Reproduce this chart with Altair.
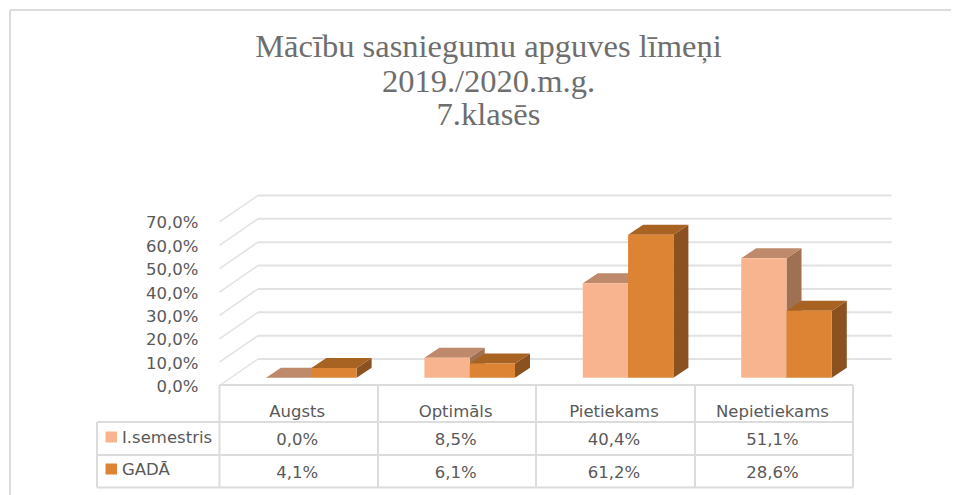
import altair as alt
import pandas as pd

categories = ["Augsts", "Optimāls", "Pietiekams", "Nepietiekams"]
series_names = ["I.semestris", "GADĀ"]
semester = [0.0, 8.5, 40.4, 51.1]
year = [4.1, 6.1, 61.2, 28.6]
ticks = [0, 10, 20, 30, 40, 50, 60, 70]

W, H = 943, 487
X0, SLOT = 219.5, 158.4
BASE, PPV = 377.7, 2.337
BAR_OFF, BAR_W = 46.5 / SLOT, 45.3 / SLOT
DX, DY = 15 / SLOT, 10 / PPV
WALL_DX = 38.5 / SLOT
WALL_DY = (BASE - 359) / PPV
FRONT_DY = (BASE - 385.5) / PPV
WALL_W = 4.0

GRID = "#e2e2e2"
LINE = "#dcdcdc"
TEXT = "#595959"
FRONT = ["#F8B48E", "#DC8433"]
TOP = ["#BE8A6B", "#A86222"]
SIDE = ["#A07052", "#8C5120"]

px = lambda x: x - 8
xs = alt.Scale(domain=[(0 - (X0 - 8)) / SLOT, (W - (X0 - 8)) / SLOT], range=[0, W], nice=False, zero=False)
ys = alt.Scale(domain=[(BASE - 8 - H) / PPV, (BASE - 8) / PPV], range=[H, 0], nice=False, zero=False)
X = lambda f: alt.X(f, type="quantitative", scale=xs, axis=None)
Y = lambda f: alt.Y(f, type="quantitative", scale=ys, axis=None)

# ---- walls
wall = pd.DataFrame({"v": ticks})
wall["y"] = wall.v + WALL_DY
wall["yf"] = wall.v + FRONT_DY
wall["x0"] = WALL_DX
wall["x1"] = WALL_DX + WALL_W
wall["xf"] = 0.0
back = alt.Chart(wall).mark_rule(color=GRID, strokeWidth=2).encode(x=X("x0"), x2="x1", y=Y("y"))
side_g = alt.Chart(wall).mark_rule(color=GRID, strokeWidth=1.5).encode(x=X("xf"), x2="x0", y=Y("yf"), y2="y")
ylab = alt.Chart(wall.assign(t=[f"{v},0%" for v in ticks])).mark_text(
    align="right", baseline="middle", font="DejaVu Sans", fontSize=16.5, color=TEXT, dy=1.5
).encode(x=alt.value(px(198.5)), y=Y("yf"), text="t:N")

# ---- bars
def bar_layers(s, vals):
    rows_f, rows_s, rows_t = [], [], []
    for i, v in enumerate(vals):
        a = i + BAR_OFF + s * BAR_W
        b = a + BAR_W
        rows_f.append({"a": a, "b": b, "v": v, "z": 0.0})
        rows_s += [{"g": i, "x": b, "lo": 0.0, "hi": v}, {"g": i, "x": b + DX, "lo": DY, "hi": v + DY}]
        rows_t += [
            {"g": i, "x": a, "lo": v, "hi": v},
            {"g": i, "x": a + DX, "lo": v, "hi": v + DY},
            {"g": i, "x": b, "lo": v, "hi": v + DY},
            {"g": i, "x": b + DX, "lo": v + DY, "hi": v + DY},
        ]
    side = alt.Chart(pd.DataFrame(rows_s)).mark_area(color=SIDE[s]).encode(x=X("x"), y=Y("lo"), y2="hi", detail="g:N")
    top = alt.Chart(pd.DataFrame(rows_t)).mark_area(color=TOP[s]).encode(x=X("x"), y=Y("lo"), y2="hi", detail="g:N")
    front = alt.Chart(pd.DataFrame(rows_f)).mark_rect(color=FRONT[s]).encode(x=X("a"), x2="b", y=Y("z"), y2="v")
    return [side, top, front]

# ---- data table
line = lambda **k: alt.Chart(pd.DataFrame({"k": [0]})).mark_rule(color=LINE, strokeWidth=2).encode(**k)
table = []
for c in [97, 219.5, 378, 536, 695, 853]:
    table.append(line(x=alt.value(px(c)), y=alt.value(px(422 if c == 97 else 385)), y2=alt.value(px(487.5))))
for r, left in [(385, 219.5), (422, 97), (455, 97), (487.5, 97)]:
    table.append(line(y=alt.value(px(r)), x=alt.value(px(left)), x2=alt.value(px(853))))

tab_text = []
for row_y, texts in [(412, categories),
                     (440, [f"{v:.1f}%".replace(".", ",") for v in semester]),
                     (473, [f"{v:.1f}%".replace(".", ",") for v in year])]:
    df = pd.DataFrame({"c": [i + 0.5 - 1.5 / SLOT for i in range(4)], "t": texts})
    tab_text.append(alt.Chart(df).mark_text(font="DejaVu Sans", fontSize=16.5, color=TEXT, baseline="middle").encode(
        x=X("c"), y=alt.value(px(row_y)), text="t:N"))

# ---- legend cells
leg = []
for i, (name, cy) in enumerate(zip(series_names, [437, 469])):
    df = pd.DataFrame({"t": [name]})
    leg.append(alt.Chart(df).mark_rect(color=FRONT[i]).encode(
        x=alt.value(px(105.5)), x2=alt.value(px(117)), y=alt.value(px(cy - 5.5)), y2=alt.value(px(cy + 5.5))))
    leg.append(alt.Chart(df).mark_text(font="DejaVu Sans", fontSize=16.5, color=TEXT, align="left", baseline="middle").encode(
        x=alt.value(px(122)), y=alt.value(px(cy + 0.5)), text="t:N"))

# ---- title + frame
titles = ["Mācību sasniegumu apguves līmeņi", "2019./2020.m.g.", "7.klasēs"]
ttl = []
for t, cy in zip(titles, [47, 82, 115]):
    ttl.append(alt.Chart(pd.DataFrame({"t": [t]})).mark_text(
        font="Liberation Serif", fontSize=32.5, color="#6e6e6e", baseline="middle").encode(
        x=alt.value(px(488.5)), y=alt.value(px(cy)), text="t:N"))

frame = [
    line(x=alt.value(px(10)), y=alt.value(px(10)), y2=alt.value(H)),
    line(y=alt.value(px(10)), x=alt.value(px(10)), x2=alt.value(W)),
]

layers = frame + ttl + [back, side_g, ylab]
layers += bar_layers(0, semester) + bar_layers(1, year)
layers += table + tab_text + leg

chart = alt.layer(*layers).resolve_scale(x="shared", y="shared").properties(
    width=W, height=H, padding=0, autosize=alt.AutoSizeParams(type="none"),
    background="white",
).configure_view(stroke=None)
chart.save("out.html", embed_options={"renderer": "svg", "actions": False})
